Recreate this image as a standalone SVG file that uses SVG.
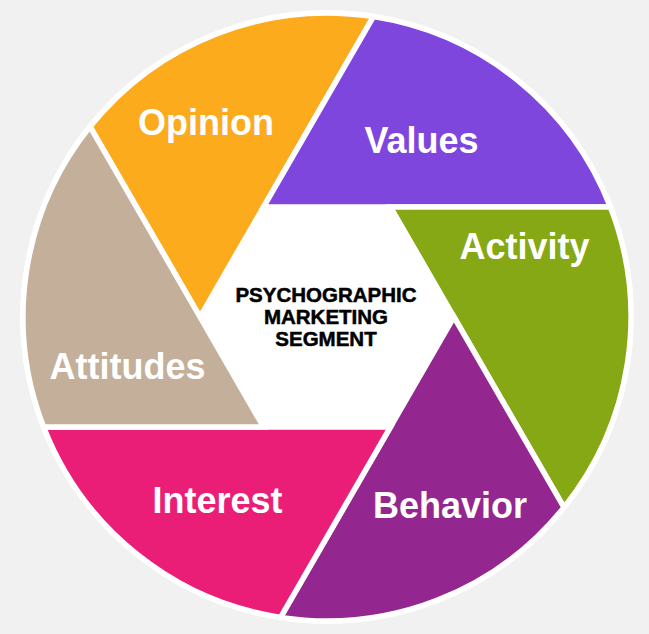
<svg xmlns="http://www.w3.org/2000/svg" width="649" height="634" viewBox="0 0 649 634">
  <style>
    .blade { stroke: #ffffff; stroke-width: 5.5; stroke-linejoin: miter; }
    .lbl { font-family: "Liberation Sans", Arial, sans-serif; font-weight: bold; font-size: 36px; fill: #ffffff; text-anchor: middle; }
    .ctr { font-family: "Liberation Sans", Arial, sans-serif; font-weight: bold; font-size: 20.5px; fill: #000000; stroke: #000000; stroke-width: 0.5; text-anchor: middle; }
  </style>
  <rect x="0" y="0" width="649" height="634" fill="#f1f1f1"/>
  <circle cx="327" cy="317" r="306.75" fill="#ffffff"/>

  <g id="opinion">
    <path class="blade" fill="#fbab1c" d="M200,317 L263.5,207 L373.45,16.57 A304,304 0 0 0 90.04,126.57 Z"/>
    <text class="lbl" x="206" y="135">Opinion</text>
  </g>
  <g id="values">
    <path class="blade" fill="#7f46de" d="M263.5,207 L390.5,207 L610.41,207 A304,304 0 0 0 373.45,16.57 Z"/>
    <text class="lbl" x="421.5" y="153">Values</text>
  </g>
  <g id="activity">
    <path class="blade" fill="#86a814" d="M390.5,207 L454,317 L563.96,507.43 A304,304 0 0 0 610.41,207 Z"/>
    <text class="lbl" x="524.5" y="259">Activity</text>
  </g>
  <g id="behavior">
    <path class="blade" fill="#93278f" d="M454,317 L390.5,427 L280.55,617.43 A304,304 0 0 0 563.96,507.43 Z"/>
    <text class="lbl" x="450" y="518">Behavior</text>
  </g>
  <g id="interest">
    <path class="blade" fill="#eb1e77" d="M390.5,427 L263.5,427 L43.59,427 A304,304 0 0 0 280.55,617.43 Z"/>
    <text class="lbl" x="217.5" y="513">Interest</text>
  </g>
  <g id="attitudes">
    <path class="blade" fill="#c4b09a" d="M263.5,427 L200,317 L90.04,126.57 A304,304 0 0 0 43.59,427 Z"/>
    <text class="lbl" x="127.5" y="379">Attitudes</text>
  </g>

  <g id="center">
    <text class="ctr" x="326" y="302">PSYCHOGRAPHIC</text>
    <text class="ctr" x="326" y="324">MARKETING</text>
    <text class="ctr" x="326" y="346">SEGMENT</text>
  </g>
</svg>
